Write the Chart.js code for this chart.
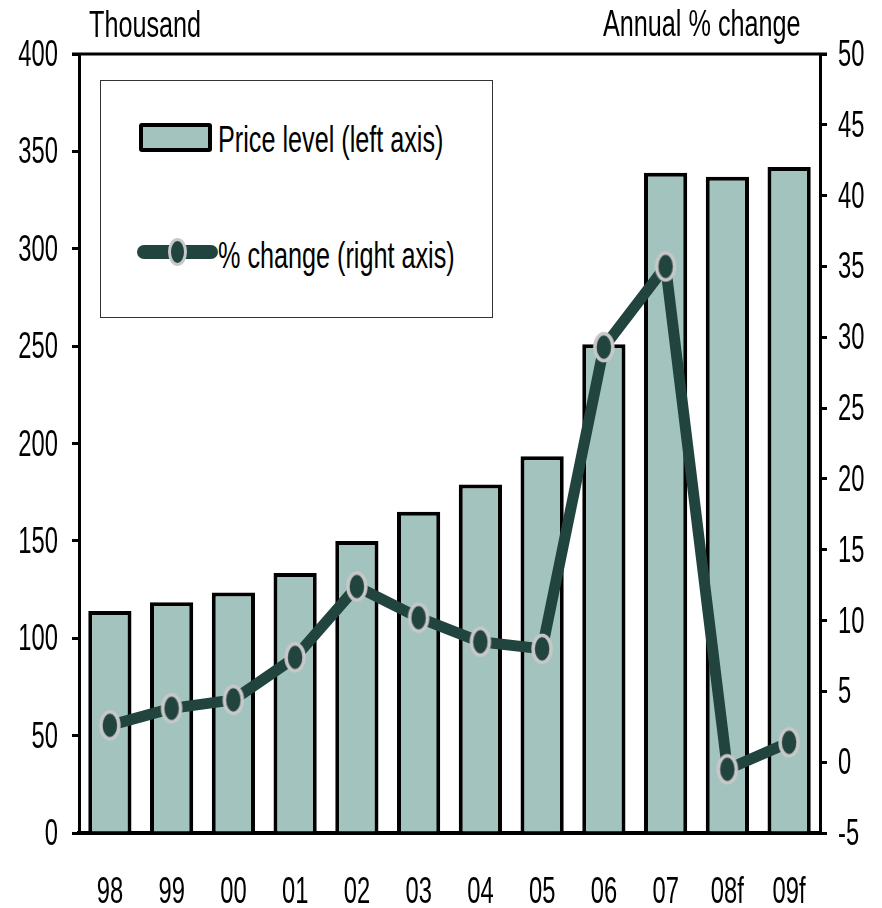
<!DOCTYPE html>
<html>
<head>
<meta charset="utf-8">
<script src="https://cdn.jsdelivr.net/npm/chart.js@4.4.1/dist/chart.umd.min.js"></script>
<style>
  html, body { margin: 0; padding: 0; background: #fff; }
  #wrap { position: relative; width: 882px; height: 908px; font-family: "Liberation Sans", Arial, sans-serif; color: #000; }
  canvas { position: absolute; left: 0; top: 0; }
  .lbl { position: absolute; font-size: 36px; line-height: 1; white-space: nowrap; transform: scaleX(0.7); transform-origin: 0 0; }
  #legend { position: absolute; left: 100px; top: 80px; width: 391px; height: 236px; border: 1.5px solid #333; background: #fff; }
  .swatch-bar { position: absolute; left: 38px; top: 42px; width: 65px; height: 21px; background: #a3c4be; border: 4px solid #000; border-radius: 3px; }
  .swatch-line { position: absolute; left: 36px; top: 164px; width: 81px; height: 14px; background: #21443f; border-radius: 7px; }
  .swatch-dot { position: absolute; left: 67px; top: 157px; width: 13px; height: 22px; border: 3px solid #c8c8c8; border-radius: 50%; background: #21443f; }
</style>
</head>
<body>
<div id="wrap">
  <canvas id="chart" width="882" height="908"></canvas>
  <div class="lbl" style="left:89px; top:7px;">Thousand</div>
  <div class="lbl" style="left:603px; top:6px;">Annual % change</div>
  <div id="legend">
    <div class="swatch-bar"></div>
    <div class="lbl" style="left:117px; top:41px;">Price level (left axis)</div>
    <div class="swatch-line"></div>
    <div class="swatch-dot"></div>
    <div class="lbl" style="left:117px; top:157px;">% change (right axis)</div>
  </div>
</div>
<script>
// categories (years, f = forecast)
const years = ['98', '99', '00', '01', '02', '03', '04', '05', '06', '07', '08f', '09f'];
// price level, thousand (left axis)
const priceLevel = [114, 118.5, 123.5, 133.5, 150, 165, 179, 193.5, 251, 339, 337, 342];
// annual % change (right axis)
const pctChange = [2.6, 3.8, 4.4, 7.4, 12.4, 10.2, 8.5, 8.0, 29.3, 35.0, -0.5, 1.4];

const leftTicks = { min: 0, max: 400, step: 50 };
const rightTicks = { min: -5, max: 50, step: 5 };

const barFill = '#a3c4be';
const lineColor = '#21443f';
const markerRing = '#c8c8c8';
const labelFont = '36px "Liberation Sans", Arial, sans-serif';
const squeeze = 0.66;   // the original type is very condensed

// oval marker: dark centre, light grey ring (taller than wide, as in the original)
function makeMarker() {
    const c = document.createElement('canvas');
    c.width = 24;
    c.height = 32;
    const m = c.getContext('2d');
    m.beginPath();
    m.ellipse(12, 16, 9, 13.5, 0, 0, Math.PI * 2);
    m.fillStyle = lineColor;
    m.fill();
    m.lineWidth = 3.5;
    m.strokeStyle = markerRing;
    m.stroke();
    return c;
}

// top frame line across the plot
const topFrame = {
    id: 'topFrame',
    afterDraw(chart) {
        const { ctx, chartArea } = chart;
        ctx.save();
        ctx.strokeStyle = '#000';
        ctx.lineWidth = 3;
        ctx.beginPath();
        ctx.moveTo(chartArea.left - 7, chartArea.top);
        ctx.lineTo(chartArea.right + 7, chartArea.top);
        ctx.stroke();
        ctx.restore();
    }
};

// tick labels drawn condensed, positions taken from the scales
function drawSqueezed(ctx, text, x, y, align) {
    ctx.save();
    ctx.translate(x, y);
    ctx.scale(squeeze, 1);
    ctx.textAlign = align;
    ctx.fillText(text, 0, 0);
    ctx.restore();
}

const condensedTicks = {
    id: 'condensedTicks',
    afterDraw(chart) {
        const { ctx, scales } = chart;
        ctx.save();
        ctx.font = labelFont;
        ctx.fillStyle = '#000';
        ctx.textBaseline = 'alphabetic';
        scales.y.ticks.forEach((t, i) => {
            drawSqueezed(ctx, t.label, scales.y.right - 21, scales.y.getPixelForTick(i) + 12, 'right');
        });
        scales.y1.ticks.forEach((t, i) => {
            drawSqueezed(ctx, t.label, scales.y1.left + 18, scales.y1.getPixelForTick(i) + 12, 'left');
        });
        scales.x.ticks.forEach((t, i) => {
            drawSqueezed(ctx, t.label, scales.x.getPixelForTick(i), scales.x.top + 70, 'center');
        });
        ctx.restore();
    }
};

new Chart(document.getElementById('chart').getContext('2d'), {
    data: {
        labels: years,
        datasets: [
            {
                type: 'line',
                label: '% change (right axis)',
                data: pctChange,
                yAxisID: 'y1',
                borderColor: lineColor,
                borderWidth: 11,
                borderJoinStyle: 'round',
                borderCapStyle: 'round',
                tension: 0,
                pointStyle: makeMarker(),
                pointRadius: 12,
                order: 1
            },
            {
                type: 'bar',
                label: 'Price level (left axis)',
                data: priceLevel,
                yAxisID: 'y',
                backgroundColor: barFill,
                borderColor: '#000',
                borderWidth: 4,
                barPercentage: 0.7,
                categoryPercentage: 1,
                order: 2
            }
        ]
    },
    options: {
        responsive: false,
        devicePixelRatio: 1,
        animation: false,
        layout: { padding: { top: 54, left: 0, right: 0, bottom: 0 } },
        plugins: {
            legend: { display: false },
            tooltip: { enabled: false }
        },
        scales: {
            x: {
                grid: { display: false },
                border: { display: true, color: '#000', width: 4 },
                ticks: { display: false },
                afterFit: s => { s.height = 75; }
            },
            y: {
                position: 'left',
                min: leftTicks.min,
                max: leftTicks.max,
                grid: { drawOnChartArea: false, color: '#000', lineWidth: 3, tickLength: 7 },
                border: { display: true, color: '#000', width: 3 },
                ticks: { stepSize: leftTicks.step, display: false },
                afterFit: s => { s.width = 79; }
            },
            y1: {
                position: 'right',
                min: rightTicks.min,
                max: rightTicks.max,
                grid: { drawOnChartArea: false, color: '#000', lineWidth: 3, tickLength: 7 },
                border: { display: true, color: '#000', width: 3 },
                ticks: { stepSize: rightTicks.step, display: false },
                afterFit: s => { s.width = 62; }
            }
        }
    },
    plugins: [topFrame, condensedTicks]
});
</script>
</body>
</html>
